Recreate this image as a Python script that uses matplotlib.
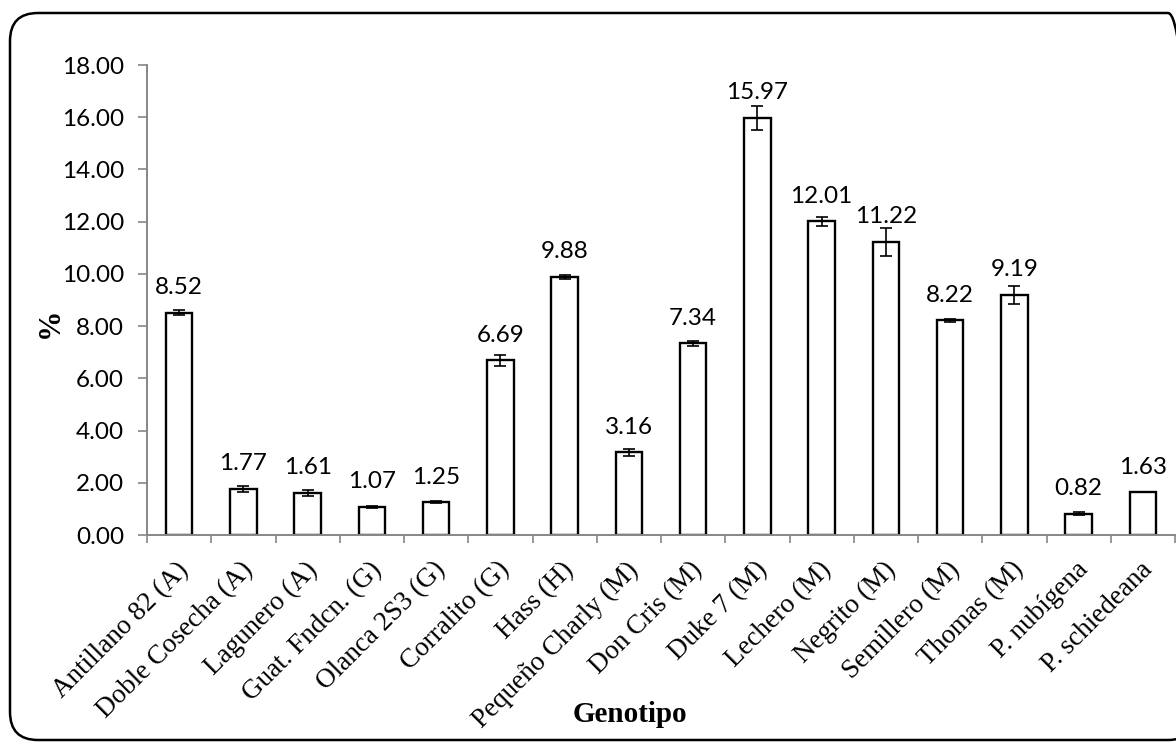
import matplotlib
matplotlib.use("Agg")
import matplotlib.pyplot as plt
from matplotlib.patches import FancyBboxPatch
from matplotlib.transforms import IdentityTransform, ScaledTranslation

categories = ["Antillano 82 (A)", "Doble Cosecha (A)", "Lagunero (A)", "Guat. Fndcn. (G)",
              "Olanca 2S3 (G)", "Corralito (G)", "Hass (H)", "Pequeño Charly (M)",
              "Don Cris (M)", "Duke 7 (M)", "Lechero (M)", "Negrito (M)",
              "Semillero (M)", "Thomas (M)", "P. nubígena", "P. schiedeana"]
values = [8.52, 1.77, 1.61, 1.07, 1.25, 6.69, 9.88, 3.16,
          7.34, 15.97, 12.01, 11.22, 8.22, 9.19, 0.82, 1.63]
errors = [0.10, 0.12, 0.10, 0.05, 0.04, 0.22, 0.06, 0.14,
          0.10, 0.47, 0.18, 0.52, 0.06, 0.34, 0.05, 0.0]
yticks = [0, 2, 4, 6, 8, 10, 12, 14, 16, 18]

W, H = 1176, 744
fig = plt.figure(figsize=(W / 100, H / 100), dpi=100)
ax = fig.add_axes([147 / W, 1 - 535 / H, (1175 - 147) / W, (535 - 65) / H])

x = list(range(len(categories)))
ax.bar(x, values, width=0.41, color="white", edgecolor="black", linewidth=1.7, zorder=2)
ax.errorbar(x, values, yerr=errors, fmt="none", ecolor="black", elinewidth=1.2,
            capsize=4.3, capthick=1.2, zorder=3)

for xi, v in zip(x, values):
    ax.annotate(f"{v:.2f}", (xi, v), xytext=(0, 13.5), textcoords="offset points",
                ha="center", va="baseline", fontsize=17.5, family="Lato")

ax.set_xlim(-0.5, len(categories) - 0.5)
ax.set_ylim(0, 18)
ax.set_yticks(yticks)
ax.set_yticklabels([f"{t:.2f}" for t in yticks], family="Lato", fontsize=17.5)

ax.set_xticks(x)
ax.set_xticklabels(categories, rotation=45, ha="right", va="top", rotation_mode="anchor",
                   family="Liberation Serif", fontsize=19.5)
ax.set_xticks([i - 0.5 for i in range(len(categories) + 1)], minor=True)
ax.tick_params(axis="x", which="major", length=0, pad=16)
ax.tick_params(axis="x", which="minor", length=6, color="#868686", width=1.2)
ax.tick_params(axis="y", which="major", length=6.5, color="#868686", width=1.2, pad=10)
offset = ScaledTranslation(-3 / 100, 0, fig.dpi_scale_trans)
for lab in ax.get_xticklabels():
    lab.set_transform(lab.get_transform() + offset)

for s in ["top", "right"]:
    ax.spines[s].set_visible(False)
for s in ["left", "bottom"]:
    ax.spines[s].set_color("#868686")
    ax.spines[s].set_linewidth(1.4)

fig.text(630 / W, 1 - 722 / H, "Genotipo", ha="center", va="baseline",
         family="Liberation Serif", fontweight="bold", fontsize=21)
fig.text(50 / W, 1 - 323 / H, "%", ha="center", va="center", rotation=90,
         family="Liberation Serif", fontweight="bold", fontsize=22)

border = FancyBboxPatch((10, 4), 1196 - 10, 731 - 4,
                        boxstyle="round,pad=0,rounding_size=28",
                        transform=IdentityTransform(), fill=False,
                        edgecolor="black", linewidth=1.8, clip_on=False)
fig.add_artist(border)

fig.savefig("out.png", dpi=100)
